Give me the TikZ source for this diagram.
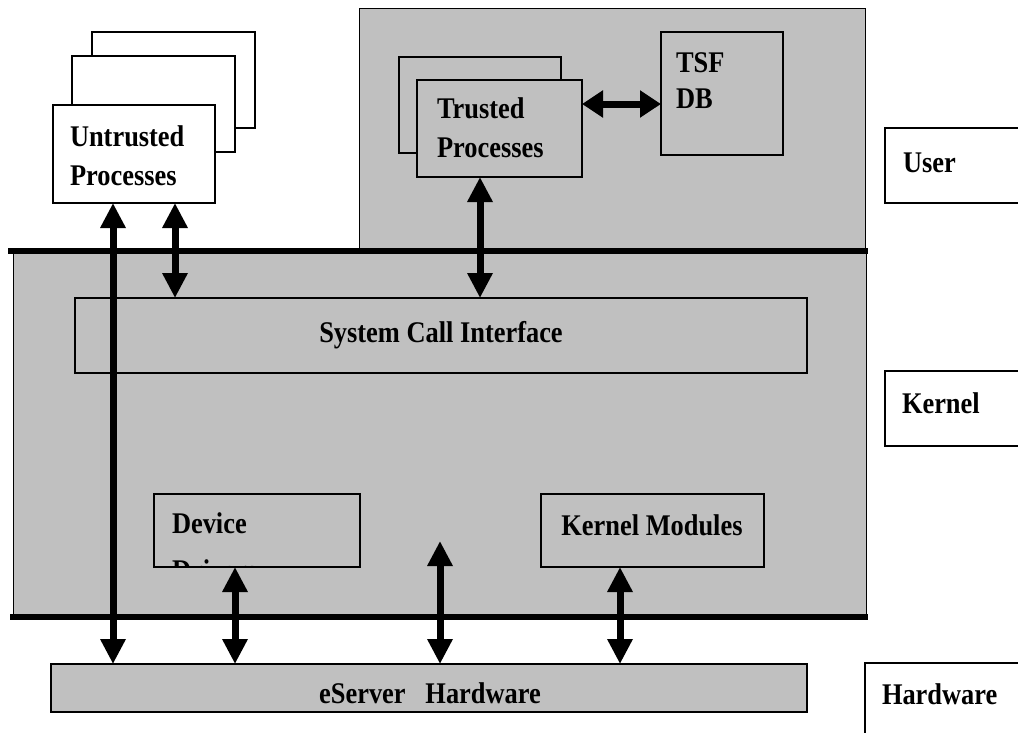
\documentclass[tikz,border=0pt]{standalone}
\usepackage{fontspec}
\setmainfont{Liberation Serif}
\usetikzlibrary{arrows.meta,calc}
\definecolor{panel}{HTML}{C0C0C0}
\newcommand{\tx}[1]{\scalebox{0.88}[1]{\bfseries #1}}
\tikzset{
  box/.style={draw=black,line width=1.5pt,inner sep=0pt,outer sep=0pt,anchor=north west},
  wbox/.style={box,fill=white},
  gbox/.style={box,fill=panel},
  lbl/.style={anchor=base west,inner sep=0pt,outer sep=0pt,font=\fontsize{30}{36}\selectfont},
  clbl/.style={anchor=base,inner sep=0pt,outer sep=0pt,font=\fontsize{30}{36}\selectfont},
  dbl/.style={line width=7pt,{Triangle[length=25pt,width=24pt]}-{Triangle[length=25pt,width=24pt]}},
  hbl/.style={line width=7pt,{Triangle[length=21pt,width=26pt]}-{Triangle[length=21pt,width=26pt]}},
  sep/.style={line width=6pt}
}
\begin{document}
\begin{tikzpicture}[x=1pt,y=-1pt]
\useasboundingbox (0,0) rectangle (1018,732);
% untrusted stack
\node[wbox,minimum width=163pt,minimum height=96pt] (ub3) at (92,32) {};
\node[wbox,minimum width=163pt,minimum height=96pt] (ub2) at (72,56) {};
\node[wbox,minimum width=162pt,minimum height=98pt] (ub1) at (53,105) {};
\node[lbl] (ut1) at (70,146) {\tx{Untrusted}};
\node[lbl] (ut2) at (70,185) {\tx{Processes}};
% user region
\node[gbox,line width=1pt,minimum width=506pt,minimum height=243pt] (ureg) at (359,8) {};
% kernel region
\node[gbox,line width=1pt,minimum width=853pt,minimum height=366pt] (kreg) at (13,251) {};
% separators
\coordinate (s1l) at (8,251); \coordinate (s1r) at (868,251);
\coordinate (s2l) at (10,617); \coordinate (s2r) at (868,617);
\draw[sep] (s1l) -- (s1r);
\draw[sep] (s2l) -- (s2r);
% trusted processes
\node[gbox,minimum width=162pt,minimum height=96pt] (tb2) at (399,57) {};
\node[gbox,minimum width=165pt,minimum height=97pt] (tb1) at (417,80) {};
\node[lbl] (tt1) at (437,118) {\tx{Trusted}};
\node[lbl] (tt2) at (437,157) {\tx{Processes}};
% TSF DB
\node[gbox,minimum width=122pt,minimum height=123pt] (tsf) at (661,32) {};
\node[lbl] (tsf1) at (676,72) {\tx{TSF}};
\node[lbl] (tsf2) at (676,108) {\tx{DB}};
% layer labels
\node[wbox,minimum width=160pt,minimum height=75pt] (ulb) at (885,128) {};
\node[lbl] (ult) at (903,172) {\tx{User}};
\node[wbox,minimum width=160pt,minimum height=75pt] (klb) at (885,371) {};
\node[lbl] (klt) at (902,413) {\tx{Kernel}};
\node[wbox,minimum width=180pt,minimum height=90pt] (hlb) at (865,663) {};
\node[lbl] (hlt) at (882,704) {\tx{Hardware}};
% system call interface
\node[gbox,minimum width=732pt,minimum height=75pt] (sci) at (75,298) {};
\node[clbl] (scit) at (441,342) {\tx{System Call Interface}};
% device drivers
\node[gbox,minimum width=206pt,minimum height=73pt] (dev) at (154,494) {};
\node[lbl] (devt1) at (172,533) {\tx{Device}};
\begin{scope}
\clip (dev.north west) rectangle ($(dev.south east)+(0,-1)$);
\node[lbl] (devt2) at (172,580) {\tx{Drivers}};
\end{scope}
% kernel modules
\node[gbox,minimum width=223pt,minimum height=73pt] (km) at (541,494) {};
\node[clbl] (kmt) at (652,535) {\tx{Kernel Modules}};
% hardware bar
\node[gbox,minimum width=756pt,minimum height=48pt] (hw) at (51,664) {};
\node[clbl] (hwt) at (430,703) {\tx{eServer\hspace{0.5em} Hardware}};
% arrows
\coordinate (xa) at (113,0);
\coordinate (xb) at (175,0);
\coordinate (xc) at (480,0);
\coordinate (xd) at (235,0);
\coordinate (xf) at (620,0);
\coordinate (free) at (440,541);
\coordinate (hy) at (0,104);
\draw[dbl] (ub1.south -| xa) -- (hw.north -| xa);
\draw[dbl] (ub1.south -| xb) -- (sci.north -| xb);
\draw[dbl] (tb1.south -| xc) -- (sci.north -| xc);
\draw[dbl] (dev.south -| xd) -- (hw.north -| xd);
\draw[dbl] (free) -- (hw.north -| free);
\draw[dbl] (km.south -| xf) -- (hw.north -| xf);
\draw[hbl] (tb1.east |- hy) -- (tsf.west |- hy);
\end{tikzpicture}
\end{document}
